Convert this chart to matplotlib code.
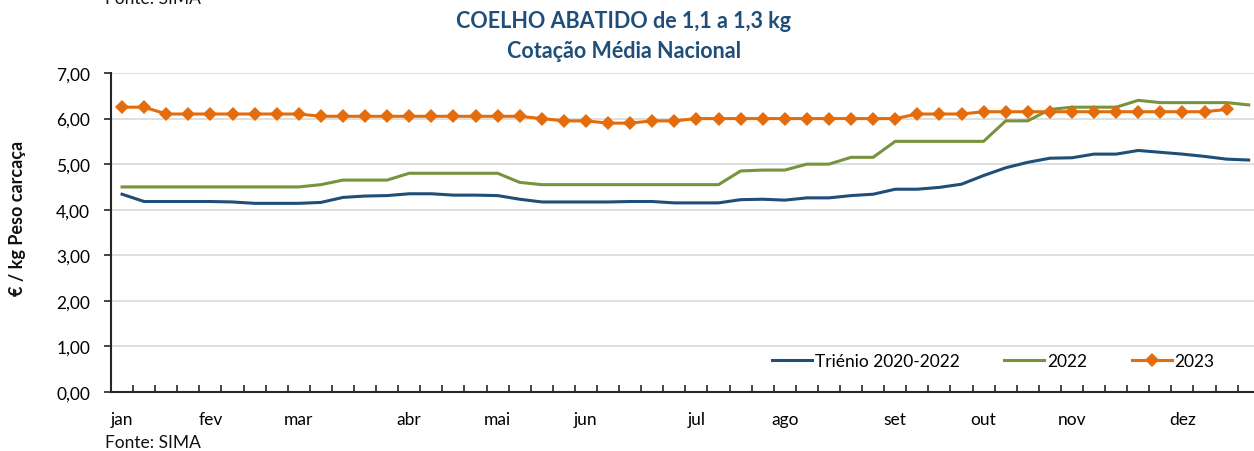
import matplotlib
matplotlib.use("Agg")
import matplotlib.pyplot as plt
from matplotlib.ticker import FixedLocator, FuncFormatter

plt.rcParams['font.family'] = ['Lato', 'DejaVu Sans']

months = ["jan", "fev", "mar", "abr", "mai", "jun", "jul", "ago", "set", "out", "nov", "dez"]
month_week = [0, 4, 8, 13, 17, 21, 26, 30, 35, 39, 43, 48]

trienio = [4.34, 4.18, 4.18, 4.18, 4.18, 4.17, 4.14, 4.14, 4.14, 4.16,
           4.27, 4.30, 4.31, 4.35, 4.35, 4.32, 4.32, 4.31, 4.23, 4.17,
           4.17, 4.17, 4.17, 4.18, 4.18, 4.15, 4.15, 4.15, 4.22, 4.23,
           4.21, 4.26, 4.26, 4.31, 4.34, 4.45, 4.45, 4.49, 4.56, 4.75,
           4.92, 5.04, 5.13, 5.14, 5.22, 5.22, 5.30, 5.26, 5.22, 5.17,
           5.11, 5.09]
y2022 = [4.50, 4.50, 4.50, 4.50, 4.50, 4.50, 4.50, 4.50, 4.50, 4.55,
         4.65, 4.65, 4.65, 4.80, 4.80, 4.80, 4.80, 4.80, 4.60, 4.55,
         4.55, 4.55, 4.55, 4.55, 4.55, 4.55, 4.55, 4.55, 4.85, 4.87,
         4.87, 5.00, 5.00, 5.15, 5.15, 5.50, 5.50, 5.50, 5.50, 5.50,
         5.95, 5.95, 6.20, 6.25, 6.25, 6.25, 6.40, 6.35, 6.35, 6.35,
         6.35, 6.30]
y2023 = [6.25, 6.25, 6.10, 6.10, 6.10, 6.10, 6.10, 6.10, 6.10, 6.05,
         6.05, 6.05, 6.05, 6.05, 6.05, 6.05, 6.05, 6.05, 6.05, 6.00,
         5.95, 5.95, 5.90, 5.90, 5.95, 5.95, 6.00, 6.00, 6.00, 6.00,
         6.00, 6.00, 6.00, 6.00, 6.00, 6.00, 6.10, 6.10, 6.10, 6.15,
         6.15, 6.15, 6.15, 6.15, 6.15, 6.15, 6.15, 6.15, 6.15, 6.15,
         6.20]

W, H = 1254, 452
fig = plt.figure(figsize=(W / 100, H / 100), dpi=100)
ax = fig.add_axes([111 / W, 1 - 393 / H, (1254 - 111) / W, (393 - 74) / H])

c_tri = "#1F4E79"
c_22 = "#77933C"
c_23 = "#E46C0A"

ax.plot(range(len(trienio)), trienio, color=c_tri, lw=2.2, label="Triénio 2020-2022", zorder=3)
ax.plot(range(len(y2022)), y2022, color=c_22, lw=2.2, label="2022", zorder=3)
ax.plot(range(len(y2023)), y2023, color=c_23, lw=2.2, marker="D", ms=7.5,
        markeredgewidth=0, label="2023", zorder=4)

ax.set_ylim(0, 7)
ax.set_xlim(-0.5, 51.24)
ax.yaxis.set_major_locator(FixedLocator([0, 1, 2, 3, 4, 5, 6, 7]))
ax.yaxis.set_major_formatter(FuncFormatter(lambda v, p: f"{v:.2f}".replace(".", ",")))
ax.grid(axis="y", color="#D9D9D9", lw=1.2)
ax.set_axisbelow(True)

ax.set_xticks(month_week)
ax.set_xticklabels(months)
ax.set_xticks([i + 0.5 for i in range(51)], minor=True)
ax.tick_params(axis="x", which="major", length=0, pad=14, labelsize=12.5)
ax.tick_params(axis="x", which="minor", direction="in", length=5, width=1.2, color="#262626")
ax.tick_params(axis="y", direction="out", length=5, width=1.2, color="#262626", labelsize=12.5, pad=10)
for s in ["top", "right"]:
    ax.spines[s].set_visible(False)
for s in ["left", "bottom"]:
    ax.spines[s].set_color("#262626")
    ax.spines[s].set_linewidth(1.5)

fig.text(18 / W, 1 - 218 / H, "€ / kg Peso carcaça", rotation=90, ha="center", va="center",
         fontsize=13, fontweight="bold", color="#111111")

ax.legend(loc="center left", bbox_to_anchor=(772 / W, 1 - 362 / H), bbox_transform=fig.transFigure,
          ncol=3, frameon=False, fontsize=12.5, handlelength=2.3, handletextpad=0.15,
          columnspacing=2.6, borderpad=0, borderaxespad=0)

fig.text(624 / W, 1 - 22 / H, "COELHO ABATIDO de 1,1 a 1,3 kg", ha="center", va="center",
         fontsize=15.5, fontweight="bold", color="#1F4E79")
fig.text(624 / W, 1 - 51 / H, "Cotação Média Nacional", ha="center", va="center",
         fontsize=15.5, fontweight="bold", color="#1F4E79")
fig.text(105 / W, 1 - 443 / H, "Fonte: SIMA", ha="left", va="center", fontsize=12.5, color="#111111")
fig.text(105 / W, 1 - (-1) / H, "Fonte: SIMA", ha="left", va="center", fontsize=12.5, color="#111111")

fig.savefig("out.png", dpi=100)
